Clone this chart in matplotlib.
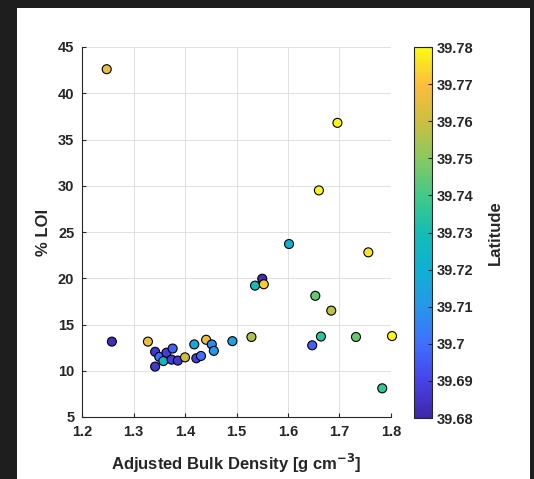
import numpy as np
import matplotlib
matplotlib.use('Agg')
import matplotlib.pyplot as plt
from matplotlib.colors import LinearSegmentedColormap
from matplotlib.patches import Rectangle
from matplotlib.ticker import FormatStrFormatter, FuncFormatter

plt.rcParams['font.family'] = ['Liberation Sans', 'DejaVu Sans']
plt.rcParams['font.weight'] = 'bold'

# data
bulk_density = [1.248, 1.696, 1.660, 1.602, 1.756, 1.550, 1.536, 1.553, 1.653, 1.684,
                1.258, 1.328, 1.441, 1.418, 1.452, 1.456, 1.492, 1.529, 1.647, 1.664,
                1.732, 1.802, 1.783, 1.342, 1.350, 1.358, 1.342, 1.364, 1.376, 1.374,
                1.386, 1.400, 1.422, 1.431]
loi = [42.6, 36.8, 29.5, 23.7, 22.8, 19.95, 19.2, 19.35, 18.1, 16.5,
       13.15, 13.15, 13.35, 12.85, 12.85, 12.15, 13.2, 13.65, 12.75, 13.7,
       13.65, 13.75, 8.1, 12.05, 11.5, 11.05, 10.45, 11.95, 12.4, 11.2,
       11.1, 11.45, 11.35, 11.6]
latitude = [39.766, 39.779, 39.779, 39.720, 39.776, 39.683, 39.729, 39.772, 39.745, 39.758,
            39.683, 39.766, 39.766, 39.717, 39.707, 39.710, 39.714, 39.755, 39.697, 39.735,
            39.745, 39.779, 39.737, 39.686, 39.699, 39.726, 39.686, 39.688, 39.697, 39.688,
            39.686, 39.760, 39.688, 39.700]

# approximation of MATLAB parula
parula = LinearSegmentedColormap.from_list('parula', [
    (0.2422, 0.1504, 0.6603), (0.2780, 0.2620, 0.9140), (0.2440, 0.4358, 0.9988),
    (0.1540, 0.5902, 0.9218), (0.0590, 0.6900, 0.8300), (0.0800, 0.7400, 0.7100),
    (0.2600, 0.7900, 0.5300), (0.5300, 0.7900, 0.3800), (0.8000, 0.7500, 0.2500),
    (0.9900, 0.7400, 0.2400), (0.9769, 0.9839, 0.0805)])

fig = plt.figure(figsize=(5.34, 4.79), dpi=100, facecolor='#1e1e1e')
fig.patches.append(Rectangle((17/534, 0), 513/534, 471/479, transform=fig.transFigure,
                             facecolor='white', edgecolor='none', zorder=-10))

ax = fig.add_axes([82/534, 1-417/479, 309/534, 370/479])
sc = ax.scatter(bulk_density, loi, c=latitude, cmap=parula, vmin=39.68, vmax=39.78,
                s=42, edgecolors='black', linewidths=0.8, zorder=3, clip_on=False)
ax.set_xlim(1.2, 1.8)
ax.set_ylim(5, 45)
ax.set_xticks(np.arange(1.2, 1.81, 0.1))
ax.set_yticks(np.arange(5, 46, 5))
ax.xaxis.set_major_formatter(FormatStrFormatter('%.1f'))
ax.grid(True, color='#dcdcdc', linewidth=0.6)
ax.set_axisbelow(True)
for s in ['top', 'right']:
    ax.spines[s].set_visible(False)
for s in ['left', 'bottom']:
    ax.spines[s].set_color('#262626')
    ax.spines[s].set_linewidth(0.8)
ax.tick_params(direction='in', length=3, width=0.8, colors='#262626', labelsize=10.5)
ax.tick_params(axis='x', pad=6)
ax.tick_params(axis='y', pad=5.5)
ax.set_xlabel('Adjusted Bulk Density [g cm$^{\\mathbf{-3}}$]', fontsize=12, fontweight='bold',
              color='#262626', labelpad=9)
ax.set_ylabel('% LOI', fontsize=12, fontweight='bold', color='#262626', labelpad=5)

cax = fig.add_axes([414/534, 1-418/479, 18/534, 371/479])
cb = fig.colorbar(sc, cax=cax)
cb.set_ticks(np.arange(39.68, 39.781, 0.01))
cb.ax.yaxis.set_major_formatter(FuncFormatter(lambda v, p: '%g' % round(v, 2)))
cb.ax.tick_params(direction='in', length=3, width=0.8, colors='#262626', labelsize=10.5)
cb.outline.set_edgecolor('#262626')
cb.outline.set_linewidth(0.8)
cb.set_label('Latitude', fontsize=12, fontweight='bold', color='#262626', labelpad=10)

plt.savefig('out.png', dpi=100, facecolor=fig.get_facecolor())
